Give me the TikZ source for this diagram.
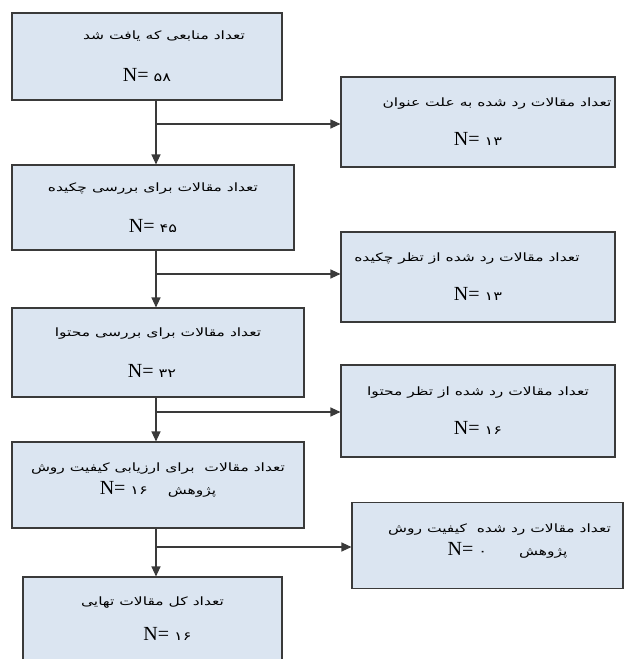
\documentclass[tikz,border=0pt]{standalone}
\usepackage{fontspec}
\setmainfont{Liberation Serif}
\newfontfamily\persianfont[Script=Arabic,FakeStretch=1.35]{DejaVu Sans}
\TeXXeTstate=1
\usepackage{tikz}
\usetikzlibrary{arrows.meta}
\definecolor{boxfill}{RGB}{219,229,241}
\definecolor{boxline}{RGB}{58,58,58}
\newcommand{\fatxt}[1]{{\persianfont\fontsize{11.5}{13}\selectfont\beginR #1\endR}}
\newcommand{\fanum}[1]{{\persianfont\fontsize{12}{13}\selectfont #1}}
\newcommand{\nval}[1]{{\fontsize{20}{21}\selectfont N=\ }\fanum{#1}}

\begin{document}
\begin{tikzpicture}[x=1pt,y=-1pt,
  box/.style={draw=boxline,fill=boxfill,line width=1.1pt,align=center,inner sep=0pt},
  arr/.style={draw=boxline,line width=1.1pt,-{Triangle[length=10pt,width=9pt]}}]
%%Location
\clip (0,0) rectangle (624,659);

%%Boxes (left column)
\node[box,minimum width=270pt,minimum height=87pt] (found) at (147,56.5)
  {\hspace*{34pt}\fatxt{تعداد منابعی که یافت شد}\\[26pt]\nval{۵۸}};
\node[box,minimum width=282pt,minimum height=85pt] (abstracts) at (153,207.5)
  {\fatxt{تعداد مقالات برای بررسی چکیده}\\[24pt]\nval{۴۵}};
\node[box,minimum width=292pt,minimum height=89pt] (content) at (158,352.5)
  {\fatxt{تعداد مقالات برای بررسی محتوا}\\[24pt]\nval{۳۲}\hspace*{12pt}};
\node[box,minimum width=292pt,minimum height=86pt] (quality) at (158,485)
  {\fatxt{تعداد مقالات\ \ برای ارزیابی کیفیت روش}\\[6pt]\nval{۱۶}\hspace{20pt}\fatxt{پژوهش}\\\mbox{}};
\node[box,minimum width=259pt,minimum height=84pt] (final) at (152.5,619)
  {\fatxt{تعداد کل مقالات تهایی}\\[18pt]\hspace*{30pt}\nval{۱۶}};

%%Boxes (right column)
\node[box,minimum width=274pt,minimum height=90pt] (rejtitle) at (478,122)
  {\hspace*{38pt}\fatxt{تعداد مقالات رد شده به علت عنوان}\\[22pt]\nval{۱۳}};
\node[box,minimum width=274pt,minimum height=90pt] (rejabstract) at (478,277)
  {\fatxt{تعداد مقالات رد شده از تظر چکیده}\hspace*{22pt}\\[22pt]\nval{۱۳}};
\node[box,minimum width=274pt,minimum height=92pt] (rejcontent) at (478,411)
  {\fatxt{تعداد مقالات رد شده از تظر محتوا}\\[22pt]\nval{۱۶}};
\node[box,minimum width=271pt,minimum height=86pt] (rejquality) at (487.5,545.5)
  {\hspace*{24pt}\fatxt{تعداد مقالات رد شده\ \ کیفیت روش}\\[6pt]\hspace*{40pt}\nval{۰}\hspace{32pt}\fatxt{پژوهش}\\\mbox{}};

%%Arrows
\coordinate (s1) at (156,124);
\coordinate (s2) at (156,274);
\coordinate (s3) at (156,412);
\coordinate (s4) at (156,547);
\draw[arr] (found.south -| s1) -- (abstracts.north -| s1);
\draw[arr] (abstracts.south -| s2) -- (content.north -| s2);
\draw[arr] (content.south -| s3) -- (quality.north -| s3);
\draw[arr] (quality.south -| s4) -- (final.north -| s4);
\draw[arr] (s1) -- (s1 -| rejtitle.west);
\draw[arr] (s2) -- (s2 -| rejabstract.west);
\draw[arr] (s3) -- (s3 -| rejcontent.west);
\draw[arr] (s4) -- (s4 -| rejquality.west);

\end{tikzpicture}
\end{document}
